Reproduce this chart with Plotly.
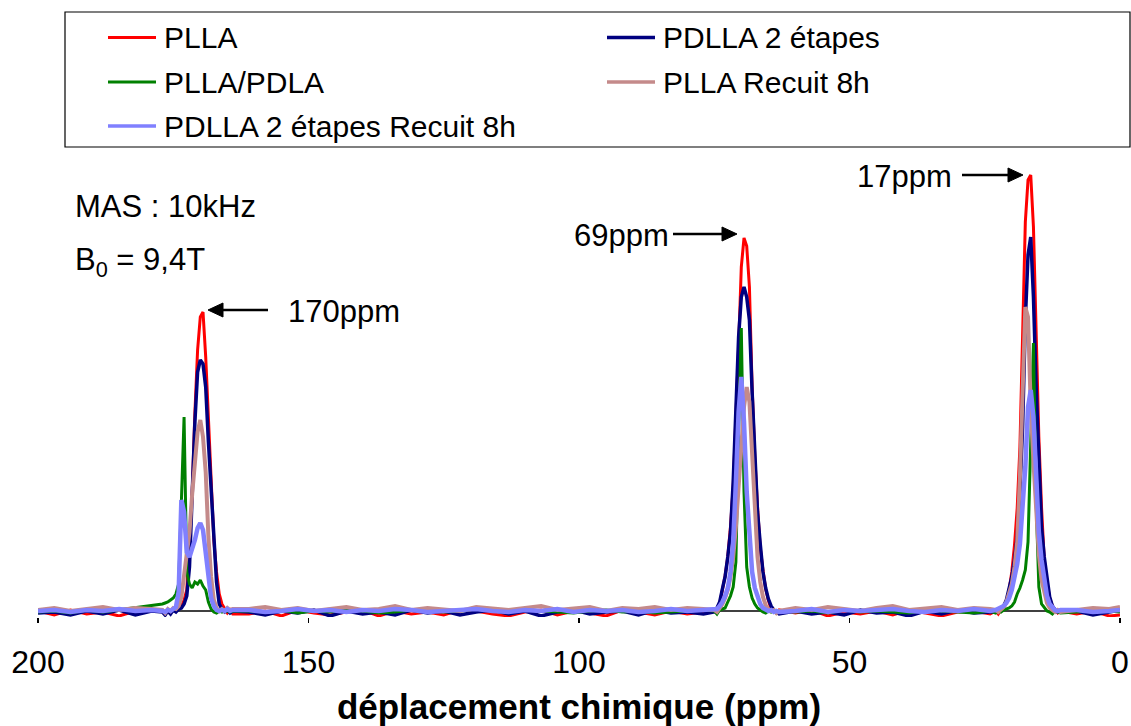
import plotly.graph_objects as go

# ---- chemical shift grid (ppm) ----
ppm_a = [200, 197, 194, 191, 188, 185, 182, 179]
ppm_p1 = [177, 176.5, 176, 175.5, 175, 174.5, 174, 173.5, 173, 172.5, 172, 171.5, 171, 170.5,
          170, 169.5, 169, 168.5, 168, 167.5, 167, 166.5, 166, 165.5, 165, 164.5, 164]
ppm_b = [161, 158, 155, 152, 149, 146, 143, 140, 137, 134, 131, 128, 125, 122, 119, 116, 113,
         110, 107, 104, 101, 98, 95, 92, 89, 86, 83, 80, 77]
ppm_p2 = [75, 74.5, 74, 73.5, 73, 72.5, 72, 71.5, 71, 70.5, 70, 69.5, 69, 68.5, 68, 67.5, 67,
          66.5, 66, 65.5, 65, 64.5, 64, 63.5, 63]
ppm_c = [60, 57, 54, 51, 48, 45, 42, 39, 36, 33, 30, 27, 24]
ppm_p3 = [23, 22.5, 22, 21.5, 21, 20.5, 20, 19.5, 19, 18.5, 18, 17.5, 17, 16.5, 16, 15.5, 15,
          14.5, 14, 13.5, 13, 12.5, 12, 11.5, 11]
ppm_d = [8, 5, 2, 0]
ppm = ppm_a + ppm_p1 + ppm_b + ppm_p2 + ppm_c + ppm_p3 + ppm_d

# ---- intensities (a.u.), same grid ----
plla = ([1, -3, 2, -2, 0, -4, 1, 2]
        + [1, -2, 2, 0, 3, 2, 4, 6, 12, 22, 70, 119, 199, 262, 295, 300, 255, 199, 135, 72, 40, 18, 8, 3, -1, 2, -2]
        + [-2, 1, -4, 2, -1, -3, 0, 2, -4, 1, -2, 0, -3, 2, 1, -2, -4, 0, 2, -3, 1, -1, -4, 2, 0, -3, 1, -2, 0]
        + [1, 3, 8, 22, 36, 55, 85, 125, 192, 265, 345, 374, 366, 325, 225, 155, 105, 64, 42, 23, 12, 3, 2, -1, 2]
        + [-1, 2, -4, 0, -2, 1, -3, 2, -1, -4, 0, 1, -2]
        + [1, -2, 2, 4, 9, 22, 40, 67, 104, 165, 285, 390, 432, 437, 385, 270, 175, 104, 52, 30, 14, 6, 2, -1, 1]
        + [-2, 1, -4, -3])

pdlla_2et = ([-1, 0, -3, 1, -2, 2, -3, 1]
             + [0, -3, 1, -2, 2, 0, 3, 4, 8, 16, 45, 120, 190, 240, 252, 248, 225, 170, 120, 75, 30, 8, 3, 0, 2, -1, 1]
             + [0, -3, 1, -1, 2, -4, 1, -2, 0, -3, 2, -1, 1, -3, 0, 2, -2, 1, -4, 0, 2, -2, 0, 1, -3, 2, -1, 0, -2]
             + [0, 4, 10, 23, 35, 55, 80, 130, 200, 275, 315, 325, 315, 292, 220, 160, 100, 68, 40, 24, 13, 6, 2, 0, -2]
             + [1, -2, 0, -3, 2, -1, 0, -4, 1, -2, 2, -1, 0]
             + [0, 2, 4, 6, 12, 22, 35, 52, 75, 122, 185, 292, 357, 375, 315, 225, 150, 85, 55, 33, 15, 6, 2, 0, 2]
             + [1, -3, 0, 2])

plla_pdla = ([0, 1, -1, 2, 0, 2, 4, 6]
             + [8, 9, 10, 12, 14, 18, 28, 110, 195, 40, 28, 24, 30, 28, 32, 26, 22, 10, 3, 0, -1, 1, 0, 2, 1, 0, 1]
             + [1, 0, 2, -1, 1, 0, 2, 1, -1, 0, 2, 1, 0, 1, 3, 1, 0, 2, 1, 0, -1, 1, 2, 0, 1, -1, 0, 1, 2]
             + [1, -2, 2, 3, 4, 10, 16, 25, 50, 180, 284, 120, 45, 25, 14, 8, 4, 2, 0, -1, 1, 0, 2, -1, 1]
             + [0, 1, -1, 2, 0, 1, 0, -1, 2, 1, 0, -1, 1]
             + [-1, 1, 0, 2, 3, 4, 6, 10, 18, 24, 32, 42, 70, 180, 269, 110, 25, 8, 4, 1, 0, -2, 1, 0, -1]
             + [0, 2, 1, 0])

plla_recuit = ([2, 4, 1, 3, 5, 2, 4, 3]
               + [2, -1, 3, 1, 4, 3, 6, 15, 38, 62, 80, 118, 155, 180, 192, 175, 140, 75, 35, 12, 4, 1, 3, 1, 4, 2, 3]
               + [3, 5, 2, 4, 1, 3, 5, 2, 3, 6, 2, 4, 3, 1, 5, 3, 2, 4, 6, 2, 3, 5, 1, 4, 3, 5, 2, 4, 3]
               + [2, 0, 4, 8, 14, 22, 35, 55, 85, 120, 165, 205, 225, 210, 155, 92, 55, 30, 15, 7, 3, 1, 2, -1, 1]
               + [4, 2, 5, 3, 1, 4, 6, 2, 3, 5, 2, 4, 3]
               + [2, 0, 3, 5, 10, 18, 28, 45, 70, 135, 219, 305, 295, 205, 150, 100, 58, 32, 18, 9, 4, 2, 0, 2, 0]
               + [2, 4, 3, 5])

pdlla_2et_recuit = ([1, 2, 0, 2, 1, 3, 1, 2]
                    + [1, 0, 2, 1, 3, 5, 20, 112, 100, 60, 55, 62, 72, 84, 89, 82, 60, 30, 14, 6, 2, 1, 2, 1, 3, 1, 2]
                    + [2, 0, 1, 3, 1, 2, 0, 2, 1, 3, 2, 0, 1, 2, 3, 1, 0, 2, 1, 3, 0, 2, 1, 2, 0, 1, 3, 1, 2]
                    + [2, 3, 6, 10, 16, 24, 40, 70, 130, 200, 235, 190, 120, 70, 40, 24, 14, 8, 4, 2, 1, 2, 0, 1, 0]
                    + [1, 3, 0, 2, 1, 2, 3, 1, 0, 2, 1, 3, 1]
                    + [2, 3, 4, 6, 9, 14, 22, 33, 48, 68, 100, 145, 205, 222, 195, 130, 80, 52, 30, 16, 8, 4, 2, 1, 2]
                    + [2, 0, 1, 2])

series_names = ["PLLA", "PDLLA 2 étapes", "PLLA/PDLA", "PLLA Recuit 8h", "PDLLA 2 étapes Recuit 8h"]
series_values = [plla, pdlla_2et, plla_pdla, plla_recuit, pdlla_2et_recuit]
series_colors = ["#FF0000", "#000080", "#008000", "#C48A8A", "#8080FF"]
series_widths = [3, 3.5, 3, 4, 4.5]

tick_vals = [200, 150, 100, 50, 0]
tick_text = ["200", "150", "100", "50", "0"]

# ---- layout geometry (pixels) ----
W, H = 1131, 726
L, R, T, B = 38, 11, 150, 109
PW, PH = W - L - R, H - T - B


def fx(px):
    return (px - L) / PW


def fy(py):
    return (H - B - py) / PH


FONT = "Liberation Sans, Arial, sans-serif"

fig = go.Figure()
for name, vals, col, w in zip(series_names, series_values, series_colors, series_widths):
    fig.add_trace(go.Scatter(x=ppm, y=vals, mode="lines", name=name,
                             line=dict(color=col, width=w), showlegend=False,
                             hoverinfo="skip"))

shapes = []
# axis line just under the baseline
shapes.append(dict(type="line", xref="x", yref="y", x0=200, x1=0, y0=1, y1=1,
                   line=dict(color="black", width=1.5), layer="below"))
# legend box
shapes.append(dict(type="rect", xref="paper", yref="paper", x0=fx(65), x1=fx(1130),
                   y0=fy(147), y1=fy(12), line=dict(color="black", width=1.2),
                   fillcolor="white", layer="above"))

annotations = []
leg_pos = [(108, 37.5), (607, 37.5), (108, 82), (607, 82), (108, 126)]
for (lx, ly), name, col, w in zip(leg_pos, series_names, series_colors, series_widths):
    shapes.append(dict(type="line", xref="paper", yref="paper", x0=fx(lx), x1=fx(lx + 48),
                       y0=fy(ly), y1=fy(ly), line=dict(color=col, width=min(w, 3.5)),
                       layer="above"))
    annotations.append(dict(text=name, xref="paper", yref="paper", x=fx(lx + 54), y=fy(ly),
                            xanchor="left", yanchor="middle", showarrow=False,
                            font=dict(family=FONT, size=30, color="black")))

# text annotations
txt_font = dict(family=FONT, size=31, color="black")
annotations.append(dict(text="MAS : 10kHz", xref="paper", yref="paper", x=fx(73), y=fy(206),
                        xanchor="left", yanchor="middle", showarrow=False, font=txt_font))
annotations.append(dict(text="B<sub>0</sub> = 9,4T", xref="paper", yref="paper", x=fx(73), y=fy(262),
                        xanchor="left", yanchor="middle", showarrow=False, font=txt_font))
annotations.append(dict(text="170ppm", xref="paper", yref="paper", x=fx(286), y=fy(311),
                        xanchor="left", yanchor="middle", showarrow=False, font=txt_font))
annotations.append(dict(text="69ppm", xref="paper", yref="paper", x=fx(671), y=fy(236),
                        xanchor="right", yanchor="middle", showarrow=False, font=txt_font))
annotations.append(dict(text="17ppm", xref="paper", yref="paper", x=fx(954), y=fy(176),
                        xanchor="right", yanchor="middle", showarrow=False, font=txt_font))

# arrows drawn as shapes (tail px, tip px, y px)
arrows = [(268, 208, 310), (673, 737, 234), (962, 1023, 175)]
for tail, tip, ay in arrows:
    d = 1 if tip > tail else -1
    base = tip - d * 15
    shapes.append(dict(type="line", xref="paper", yref="paper", x0=fx(tail), x1=fx(base),
                       y0=fy(ay), y1=fy(ay), line=dict(color="black", width=2.5)))
    path = "M {} {} L {} {} L {} {} Z".format(fx(tip), fy(ay), fx(base), fy(ay - 7),
                                             fx(base), fy(ay + 7))
    shapes.append(dict(type="path", xref="paper", yref="paper", path=path,
                       fillcolor="black", line=dict(color="black", width=1)))

fig.update_layout(
    template="none",
    width=W, height=H,
    margin=dict(l=L, r=R, t=T, b=B, pad=0, autoexpand=False),
    paper_bgcolor="white", plot_bgcolor="white",
    font=dict(family=FONT, color="black"),
    xaxis=dict(range=[200, 0], tickvals=tick_vals, ticktext=tick_text, automargin=False,
               ticks="outside", ticklen=5, tickwidth=1.5, tickcolor="black",
               showgrid=False, zeroline=False, showline=False,
               tickfont=dict(family=FONT, size=32, color="black"),
               ticklabelstandoff=12,
               title=dict(text="<b>déplacement chimique (ppm)</b>",
                          font=dict(family=FONT, size=35, color="black"), standoff=19)),
    yaxis=dict(range=[-5, 462], visible=False, showgrid=False, zeroline=False, automargin=False),
    shapes=shapes,
    annotations=annotations,
    hovermode=False,
    showlegend=False,
)

fig.write_html("out.html",
               config={"displayModeBar": False, "staticPlot": True},
               post_script="document.body.style.margin='0';document.body.style.overflow='hidden';")
